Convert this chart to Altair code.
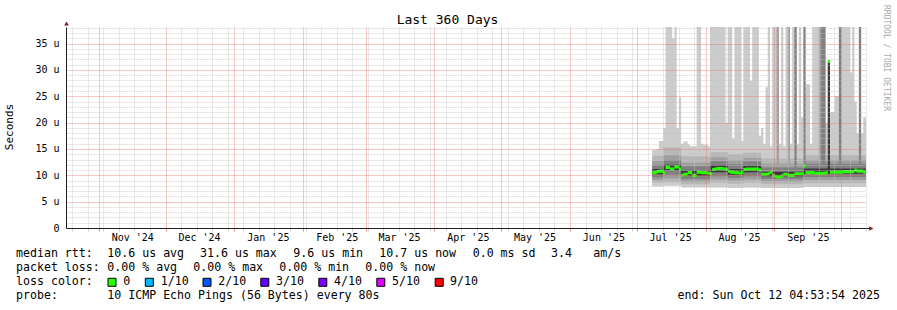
import altair as alt
import pandas as pd

# ---------------- data ----------------
START = "2024-10-17T04:53:54Z"
END = "2025-10-12T04:53:54Z"
FIRST_DAY = "2025-07-08"
Y_MAX = 38.15

# median rtt per day (microseconds), Jul 8 .. Oct 12 2025
median_rtt = [
    10.5, 10.5, 10.7, 10.8, 10.8, 10.4, 11.5, 11.5, 11.2, 11.2, 11.6, 11.6, 11.2, 10.0, 10.2, 10.2,
    10.5, 10.5, 10.0, 10.0, 10.6, 10.6, 10.5, 10.5,
    10.5, 10.4, 10.3, 11.1, 11.2, 11.3, 11.3, 11.3, 11.2, 11.2, 10.8, 10.6, 10.6, 10.5, 10.5, 10.4,
    10.5, 11.1, 11.2, 11.2, 11.2, 11.2, 11.2, 11.2, 11.0, 10.2, 10.2, 10.2, 10.3, 10.6, 10.0,
    9.8, 9.7, 9.7, 9.9, 10.2, 10.2, 10.0, 10.0, 10.0, 10.3, 10.3, 10.3, 10.3, 11.8, 10.5, 10.5,
    10.5, 10.5, 10.4, 10.4, 10.4, 10.4, 10.4, 10.5, 31.6, 10.6, 10.6, 10.6, 10.6, 10.6,
    10.6, 10.7, 10.7, 10.7, 10.7, 10.7, 11.0, 10.8, 10.8, 10.8, 10.6, 10.6,
]
# top of the lightest smoke (slowest ping) per day; 45 = beyond the top of the graph
max_ping = [
    14.8, 14.8, 15.0, 16.5, 16.5, 19.0, 45, 45, 45, 36, 45, 19.0, 24.8, 16.0, 16.4, 16.4,
    15.8, 15.5, 15.5, 15.5, 45, 45, 16.0, 15.8,
    15.8, 15.5, 45, 45, 45, 45, 45, 45, 45, 20, 45, 45, 17, 45, 45, 45,
    16.5, 45, 45, 45, 27.9, 45, 45, 45, 17.5, 19, 16, 26.7, 45, 15.5, 45,
    45, 45, 16, 45, 15.5, 45, 45, 16, 45, 45, 16, 45, 21, 45, 27.3, 27.3,
    16, 45, 45, 45, 45, 45, 45, 20, 31.6, 22, 22, 25, 25, 45,
    45, 45, 45, 45, 29.5, 45, 24, 18, 45, 18, 21, 21,
]
# smoke band limits, piecewise over periods
seg_start = ["2025-07-08", "2025-07-13", "2025-07-21", "2025-08-03", "2025-08-11",
             "2025-08-18", "2025-08-26", "2025-09-14"]
seg_lo1 = [7.9, 8.0, 7.7, 7.7, 7.6, 7.7, 7.6, 7.8]
seg_lo2 = [8.6, 8.7, 8.3, 8.6, 8.4, 8.6, 8.3, 8.5]
seg_lo3 = [9.1, 9.4, 8.8, 9.2, 9.0, 9.2, 8.8, 9.1]
seg_lo4 = [9.6, 10.1, 9.3, 9.8, 9.5, 9.8, 9.3, 9.7]
seg_lo5 = [10.2, 10.9, 9.9, 10.6, 10.1, 10.6, 9.8, 10.3]
seg_hi5 = [11.2, 12.0, 10.9, 11.9, 11.2, 11.8, 10.7, 11.3]
seg_hi4 = [12.0, 12.9, 11.7, 12.7, 12.1, 12.6, 11.5, 12.2]
seg_hi3 = [12.7, 13.8, 12.4, 13.4, 12.9, 13.3, 12.2, 12.9]
seg_hi2 = [13.7, 15.3, 13.6, 14.4, 14.0, 14.3, 13.2, 13.8]
# days where an inner smoke band shoots up
spike_day = ["2025-09-02", "2025-09-07", "2025-09-10", "2025-09-14", "2025-09-21",
             "2025-09-22", "2025-09-23", "2025-09-25", "2025-09-30", "2025-10-09"]
spike_band = [3, 3, 4, 4, 3, 4, 4, 5, 4, 4]
spike_top = [45, 45, 45, 45, 45, 45, 45, 31.6, 45, 45]

band_colors = ["#cccccc", "#b6b6b6", "#9e9e9e", "#808080", "#3a3a3a"]
median_color = "#26ff00"

legend_lines = [
    (254.3, [("median rtt:", 16), ("10.6 us avg", 107.3), ("31.6 us max", 200), ("9.6 us min", 293.3),
             ("10.7 us now", 379.3), ("0.0 ms sd", 472.7), ("3.4", 551), ("am/s", 593.3)]),
    (268.3, [("packet loss:", 16), ("0.00 % avg", 107.3), ("0.00 % max", 193.3), ("0.00 % min", 279.3),
             ("0.00 % now", 365.3)]),
    (282.3, [("loss color:", 16), ("0", 123.3), ("1/10", 160.7), ("2/10", 218.3), ("3/10", 276),
             ("4/10", 334), ("5/10", 392), ("9/10", 450)]),
    (296.0, [("probe:", 16), ("10 ICMP Echo Pings (56 Bytes) every 80s", 107.3)]),
]
loss_colors = ["#26ff00", "#00b8ff", "#0059ff", "#5e00ff", "#7e00ff", "#dd00ff", "#ff0000"]
swatch_x = [112, 149.3, 207, 264.8, 322.8, 380.8, 439.2]

# ---------------- build tables ----------------
OX, OY = 66, 27  # plot origin in the page


def ms(ts):
    return int(pd.Timestamp(ts).timestamp() * 1000)


t_start, t_end = ms(START), ms(END)
n = len(median_rtt)
days = pd.date_range(FIRST_DAY, periods=n, freq="D", tz="UTC")
day_ms = [ms(d) for d in days] + [ms(days[-1] + pd.Timedelta(days=1))]
seg_ms = [ms(pd.Timestamp(s, tz="UTC")) for s in seg_start]
spikes = {(ms(pd.Timestamp(d, tz="UTC")), b): tp for d, b, tp in zip(spike_day, spike_band, spike_top)}

lows = [seg_lo1, seg_lo2, seg_lo3, seg_lo4, seg_lo5]
highs = [None, seg_hi2, seg_hi3, seg_hi4, seg_hi5]


def seg_of(t):
    j = 0
    for k, s in enumerate(seg_ms):
        if s <= t:
            j = k
    return j


band_tables = []
for b in range(5):
    rows = []
    for i in range(len(day_ms)):
        k = min(i, n - 1)
        j = seg_of(day_ms[k])
        lo = lows[b][j]
        hi = max_ping[k] if b == 0 else highs[b][j]
        hi = spikes.get((day_ms[k], b + 1), hi)
        rows.append({"t": day_ms[i], "lo": lo, "hi": hi})
    band_tables.append(pd.DataFrame(rows))

med_rows = []
for i in range(len(day_ms)):
    k = min(i, n - 1)
    med_rows.append({"t": day_ms[i], "lo": median_rtt[k] - 0.3, "hi": median_rtt[k] + 0.3})
med_df = pd.DataFrame(med_rows)

# axis tick positions (weeks, month starts, month-middle labels)
weeks = [ms(d) for d in pd.date_range("2024-10-20", "2025-10-12", freq="7D", tz="UTC")]
months = [ms(d) for d in pd.date_range("2024-11-01", "2025-10-01", freq="MS", tz="UTC")]
mids = [ms(d + pd.Timedelta(days=15, hours=1)) for d in pd.date_range("2024-11-01", "2025-09-01", freq="MS", tz="UTC")]
x_values = sorted(set(weeks) | set(months) | set(mids))

IS_LABEL = "utchours(datum.value) === 1"
IS_MONTH = "utcdate(datum.value) === 1 && utchours(datum.value) === 0"
RED = "#e46a6a"
GREY = "#c4c4c4"
FONT = "DejaVu Sans Mono"

x_axis = alt.Axis(
    values=x_values, title=None, zindex=1,
    grid=True, gridDash=[1, 1],
    gridColor={"condition": {"test": IS_MONTH, "value": RED}, "value": GREY},
    gridOpacity={"condition": {"test": IS_LABEL, "value": 0}, "value": 0.75},
    ticks=True, tickSize=3,
    tickColor={"condition": {"test": IS_MONTH, "value": RED}, "value": GREY},
    tickOpacity={"condition": {"test": IS_LABEL, "value": 0}, "value": 0.8},
    domainColor="#1f1f1f", domainWidth=1,
    labelExpr="utchours(datum.value) === 1 ? utcFormat(datum.value, \"%b '%y\") : ''",
    labelFont=FONT, labelFontSize=10, labelColor="#000000", labelPadding=1,
    labelOverlap=False, labelFlush=False, labelBound=False,
)
y_axis = alt.Axis(
    values=list(range(0, 39)), title=None, zindex=1,
    grid=True, gridDash=[1, 1],
    gridColor={"condition": {"test": "datum.value % 5 === 0", "value": RED}, "value": GREY},
    gridOpacity=0.75,
    ticks=False, domainColor="#1f1f1f", domainWidth=1,
    labelExpr="datum.value % 5 === 0 ? (datum.value === 0 ? '0\u00a0\u00a0' : datum.value + ' u') : ''",
    labelFont=FONT, labelFontSize=10, labelColor="#000000", labelPadding=7,
    labelOverlap=False,
)
x_scale = alt.Scale(type="utc", domain=[t_start, t_end])
y_scale = alt.Scale(domain=[0, Y_MAX], nice=False, zero=False)


def band_layer(df, color):
    return alt.Chart(df).mark_area(interpolate="step-after", clip=True, color=color).encode(
        x=alt.X("t:T", scale=x_scale, axis=x_axis),
        y=alt.Y("lo:Q", scale=y_scale, axis=y_axis),
        y2="hi:Q",
    )


layers = [band_layer(band_tables[b], band_colors[b]) for b in range(5)]
layers.append(band_layer(med_df, median_color))

dummy = pd.DataFrame({"k": [0]})


def text_layer(txt, px, py, size=11.6, align="left", angle=0, color="#000000"):
    return alt.Chart(dummy).mark_text(
        font=FONT, fontSize=size, align=align, baseline="middle", angle=angle, color=color
    ).encode(x=alt.value(px - OX), y=alt.value(py - OY), text=alt.value(txt))


layers.append(text_layer("Last 360 Days", 447.5, 19.5, size=13, align="center"))
layers.append(text_layer("Seconds", 10, 127, size=11, align="center", angle=270))
layers.append(text_layer("RRDTOOL / TOBI OETIKER", 886, 5, size=8, align="left", angle=90, color="#aaaaaa"))
for py, chunks in legend_lines:
    for txt, px in chunks:
        layers.append(text_layer(txt, px, py))
layers.append(text_layer("end: Sun Oct 12 04:53:54 2025", 880, 296, align="right"))

for cx, col in zip(swatch_x, loss_colors):
    layers.append(
        alt.Chart(dummy).mark_square(size=64, filled=True, stroke="#000000", strokeWidth=1, opacity=1)
        .encode(x=alt.value(cx - OX), y=alt.value(282.3 - OY), fill=alt.value(col))
    )

# axis arrows
layers.append(
    alt.Chart(dummy).mark_rule(color="#1f1f1f", strokeWidth=1)
    .encode(x=alt.value(800), x2=alt.value(804), y=alt.value(201.5))
)
layers.append(
    alt.Chart(dummy).mark_point(shape="triangle-right", filled=True, size=22, color="#7f1f1f", opacity=1)
    .encode(x=alt.value(871.3 - OX), y=alt.value(228.5 - OY))
)
layers.append(
    alt.Chart(dummy).mark_point(shape="triangle-up", filled=True, size=22, color="#7f1f1f", opacity=1)
    .encode(x=alt.value(0.5), y=alt.value(23.5 - OY))
)

chart = alt.layer(*layers).properties(
    width=800,
    height=201,
    autosize=alt.AutoSizeParams(type="none"),
    padding={"left": OX, "top": OY, "right": 31, "bottom": 82},
    background="white",
).configure_view(strokeWidth=0)

chart.save("out.html", embed_options={"renderer": "svg", "actions": False})
